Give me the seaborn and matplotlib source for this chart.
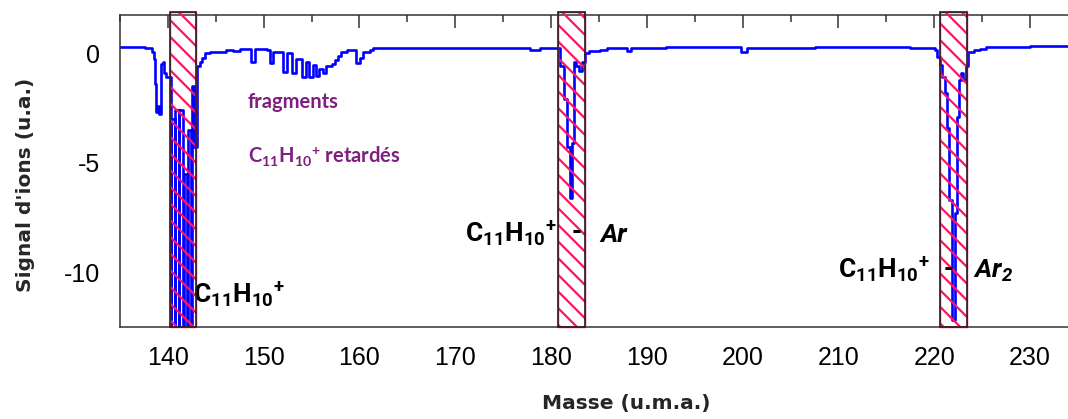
import matplotlib.pyplot as plt
from matplotlib.patches import Rectangle
from matplotlib.ticker import MultipleLocator
import seaborn as sns
import pandas as pd

# Spectre (masse en u.m.a., signal en u.a.)
masse = [135.0, 137.6, 138.3, 138.5, 138.7, 138.8, 139.0, 139.1, 139.3, 139.5,
         139.6, 139.8, 140.35, 140.37, 140.77, 140.79, 141.19, 141.21, 141.61,
         141.63, 142.03, 142.05, 142.45, 142.47, 142.75,
         143.05, 143.35, 143.6, 143.9, 144.4, 146.1, 146.8, 147.5,
         148.7, 149.1, 150.3, 150.65, 151.0, 152.0, 152.4, 153.0, 153.4,
         153.95, 154.4, 154.75, 155.1, 155.45, 155.8, 156.15, 156.55, 157.1,
         157.4, 157.8, 158.1, 158.65, 159.6, 160.1, 160.4, 161.1, 161.4,
         177.8, 178.8, 180.9, 181.35, 181.7, 181.95, 182.2, 182.4, 182.6,
         182.9, 183.2, 183.5, 184.0, 185.1, 185.8, 187.9, 188.3, 192.0,
         199.8, 200.4, 207.5, 217.45, 220.05, 220.3, 220.6, 220.85, 221.1,
         221.3, 221.55, 221.85, 222.15, 222.35, 222.55, 222.8, 223.05, 223.3,
         223.55, 224.1, 224.75, 225.45, 230.0, 234.0]
signal = [0.27, 0.22, 0.05, -0.25, -1.4, -2.7, -2.4, -2.75, -0.5, -0.4,
          -0.9, -1.1, -16, -3.0, -16, -2.6, -16, -2.6, -16,
          -5.5, -16, -3.5, -16, -1.5, -4.3,
          -0.6, -0.4, -0.2, 0.0, 0.06, 0.14, 0.1, 0.18,
          -0.4, 0.2, 0.15, -0.45, 0.05, -0.85, 0.0, -0.9, -0.25,
          -1.1, -0.4, -1.1, -0.55, -1.05, -0.7, -0.9, -0.6, -0.5,
          -0.3, -0.1, 0.05, 0.14, -0.45, -0.2, 0.05, 0.15, 0.25,
          0.15, 0.22, -0.6, -2.1, -4.3, -6.6, -4.1, -0.4, -0.6,
          -0.8, -0.4, 0.0, 0.1, 0.17, 0.22, 0.12, 0.24, 0.28,
          0.05, 0.25, 0.27, 0.23, 0.14, -0.18, -0.55, -1.1, -1.8,
          -3.4, -6.7, -12.2, -7.3, -2.9, -1.2, -0.9, -1.2, -0.6,
          0.05, 0.14, 0.2, 0.27, 0.32, 0.33]

# Zones hachurées (début, fin)
zones = [(140.2, 142.9), (180.7, 183.5), (220.6, 223.4)]

XMIN, XMAX = 135.0, 233.96
YMIN, YMAX = -12.5, 1.75

sns.set_style('white')
plt.rcParams['mathtext.default'] = 'regular'
plt.rcParams['axes.unicode_minus'] = False
plt.rcParams['hatch.linewidth'] = 1.6
plt.rcParams['font.family'] = ['Liberation Sans', 'DejaVu Sans']

fig = plt.figure(figsize=(10.68, 4.19), dpi=100)
ax = fig.add_axes([120 / 1068, 92 / 419, 948 / 1068, 312 / 419])

df = pd.DataFrame({'Masse': masse, 'Signal': signal})
sns.lineplot(data=df, x='Masse', y='Signal', ax=ax, color='#0000ff', lw=1.9,
             drawstyle='steps-post', estimator=None, sort=False, zorder=2)

# Rectangles hachurés
for x0, x1 in zones:
    ax.add_patch(Rectangle((x0, YMIN), x1 - x0, YMAX + 0.14 - YMIN,
                           fill=False, hatch='\\\\', edgecolor='#ff1464',
                           lw=1.0, zorder=3, clip_on=False))
    ax.add_patch(Rectangle((x0, YMIN), x1 - x0, YMAX + 0.14 - YMIN,
                           fill=False, edgecolor='#222222', lw=1.2,
                           zorder=4, clip_on=False))

ax.set_xlim(XMIN, XMAX)
ax.set_ylim(YMIN, YMAX)
ax.xaxis.set_major_locator(MultipleLocator(10))
ax.xaxis.set_minor_locator(MultipleLocator(5))
ax.yaxis.set_major_locator(MultipleLocator(5))
ax.yaxis.set_minor_locator(MultipleLocator(2.5))
ax.tick_params(which='both', direction='out', color='#333333', width=1.1,
               labelsize=18, labelcolor='black')
ax.tick_params(which='major', length=9.5)
ax.tick_params(which='minor', length=5)
ax.tick_params(axis='x', pad=4)
ax.tick_params(axis='y', pad=5)

top = ax.secondary_xaxis('top')
top.xaxis.set_major_locator(MultipleLocator(10))
top.xaxis.set_minor_locator(MultipleLocator(5))
top.tick_params(which='both', direction='in', color='#333333', width=1.1,
                labeltop=False)
top.tick_params(which='major', length=9.5)
top.tick_params(which='minor', length=5)
top.spines['top'].set_color('#333333')
top.spines['top'].set_linewidth(1.1)

for side in ['left', 'bottom']:
    ax.spines[side].set_color('#333333')
    ax.spines[side].set_linewidth(1.1)
ax.spines['right'].set_visible(False)
ax.spines['top'].set_visible(False)

ax.set_xlabel('Masse (u.m.a.)', fontsize=14.5, fontweight='bold',
              family='DejaVu Sans')
ax.set_ylabel("Signal d'ions (u.a.)", fontsize=14.5, fontweight='bold',
              family='DejaVu Sans')
ax.xaxis.set_label_coords(0.534, -0.215)
ax.yaxis.set_label_coords(-0.09, 0.455)

# Annotations
big = dict(fontsize=19, fontweight='bold', color='black', family='Roboto')
ion = 'C$_{11}$H$_{10}$$^{+}$'
ax.text(142.6, -11.42, ion, ha='left', va='baseline', **big)
ax.text(171.0, -8.63, ion, ha='left', va='baseline', **big)
ax.text(182.7, -8.5, '-', ha='center', va='baseline', **big)
ax.text(185.1, -8.63, 'Ar', ha='left', va='baseline', style='italic', **big)
ax.text(209.9, -10.27, ion, ha='left', va='baseline', **big)
ax.text(221.5, -10.15, '-', ha='center', va='baseline', **big)
ax.text(224.0, -10.27, 'Ar$_{2}$', ha='left', va='baseline', style='italic',
        **big)

violet = dict(fontsize=14.5, fontweight='bold', color='#7f1f80', family='Lato')
ax.text(148.35, -2.51, 'fragments', ha='left', va='baseline', **violet)
ax.text(148.35, -5.02, ion + ' retardés', ha='left', va='baseline', **violet)

fig.savefig('out.png', dpi=100)
